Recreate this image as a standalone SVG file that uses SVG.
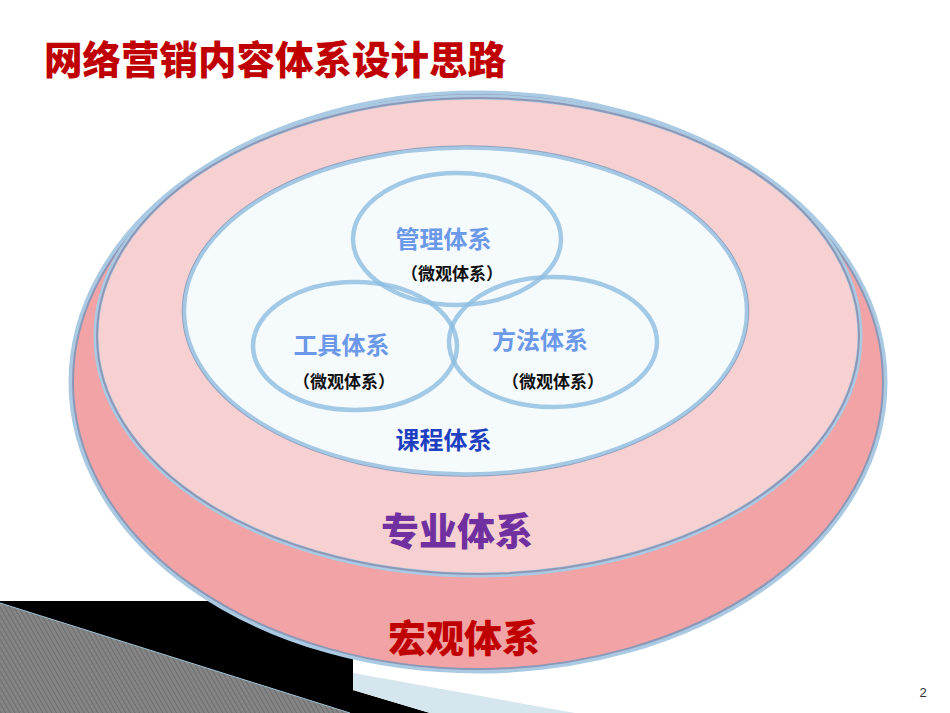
<svg xmlns="http://www.w3.org/2000/svg" width="950" height="713" viewBox="0 0 950 713">
  <defs>
    <pattern id="hatch" patternUnits="userSpaceOnUse" width="4" height="4" patternTransform="rotate(-30)">
      <rect width="4" height="4" fill="#858585"/>
      <line x1="0" y1="0" x2="0" y2="4" stroke="#5c5c5c" stroke-width="1.2"/>
    </pattern>
  </defs>
  <style>
    .cjk { font-family: "Noto Sans CJK SC", "Noto Sans", sans-serif; font-weight: 700; text-anchor: middle; dominant-baseline: central; }
    .heavy { font-weight: 900; }
    .glow { fill: none; stroke: #AACAE4; stroke-width: 5; }
    .edge { fill: none; stroke: #8E98B6; stroke-width: 2; }
    .ring { fill: none; stroke: #8DBDE0; stroke-opacity: 0.8; stroke-width: 4.5; }
    .sub { font-size: 17px; fill: #111; }
    .mid { font-size: 24px; fill: #6B98E8; }
  </style>
  <rect width="950" height="713" fill="#ffffff"/>

  <g id="corner-decoration">
    <polygon points="0,601 353,601 353,690 430,713 0,713" fill="#000000"/>
    <polygon points="0,603 350,713 0,713" fill="url(#hatch)"/>
    <line x1="0" y1="603" x2="350" y2="713" stroke="#9CC3D6" stroke-width="1"/>
    <polygon points="353,673 575,713 430,713 353,690" fill="#D6E6EE"/>
  </g>

  <g id="macro-system">
    <ellipse cx="478" cy="382" rx="407" ry="289" fill="#F2A3A5"/>
    <ellipse class="glow" cx="478" cy="382" rx="407" ry="289"/>
    <ellipse class="edge" cx="478" cy="382" rx="405" ry="287"/>
    <text class="cjk heavy" x="464" y="635" font-size="38" fill="#C00000">宏观体系</text>
  </g>

  <g id="professional-system">
    <ellipse cx="478" cy="336" rx="381" ry="238" fill="#F7D0D1"/>
    <ellipse class="glow" cx="478" cy="336" rx="382" ry="239" stroke-width="3"/>
    <ellipse class="edge" cx="478" cy="336" rx="381" ry="238" stroke-width="2.5"/>
    <text class="cjk heavy" x="457" y="528" font-size="38" fill="#7030A0">专业体系</text>
  </g>

  <g id="course-system">
    <ellipse cx="465.5" cy="311" rx="282" ry="164" fill="#F5FBFD"/>
    <ellipse cx="465.5" cy="311" rx="283" ry="165" fill="none" stroke="#8FA2C2" stroke-width="1.5"/>
    <ellipse cx="465.5" cy="311" rx="281" ry="163" fill="none" stroke="#A4C8E4" stroke-width="3.5"/>
    <text class="cjk" x="443.5" y="438" font-size="24" fill="#1F40C0">课程体系</text>
  </g>

  <g id="management-system">
    <ellipse class="ring" cx="457" cy="239" rx="104" ry="66"/>
    <text class="cjk mid" x="443.5" y="237">管理体系</text>
    <text class="cjk sub" x="452" y="272">（微观体系）</text>
  </g>

  <g id="tool-system">
    <ellipse class="ring" cx="355" cy="346" rx="102" ry="64"/>
    <text class="cjk mid" x="341.5" y="343">工具体系</text>
    <text class="cjk sub" x="344" y="380">（微观体系）</text>
  </g>

  <g id="method-system">
    <ellipse class="ring" cx="553" cy="342" rx="104" ry="65"/>
    <text class="cjk mid" x="540" y="338">方法体系</text>
    <text class="cjk sub" x="553" y="380">（微观体系）</text>
  </g>

  <g id="connectors"/>

  <g id="title">
    <text class="cjk heavy" x="275" y="57" font-size="38.5" fill="#C00000">网络营销内容体系设计思路</text>
  </g>

  <g id="page-number">
    <text x="923" y="697" font-family="Liberation Sans, Arial, sans-serif" font-size="13" fill="#333333" text-anchor="middle">2</text>
  </g>
</svg>
